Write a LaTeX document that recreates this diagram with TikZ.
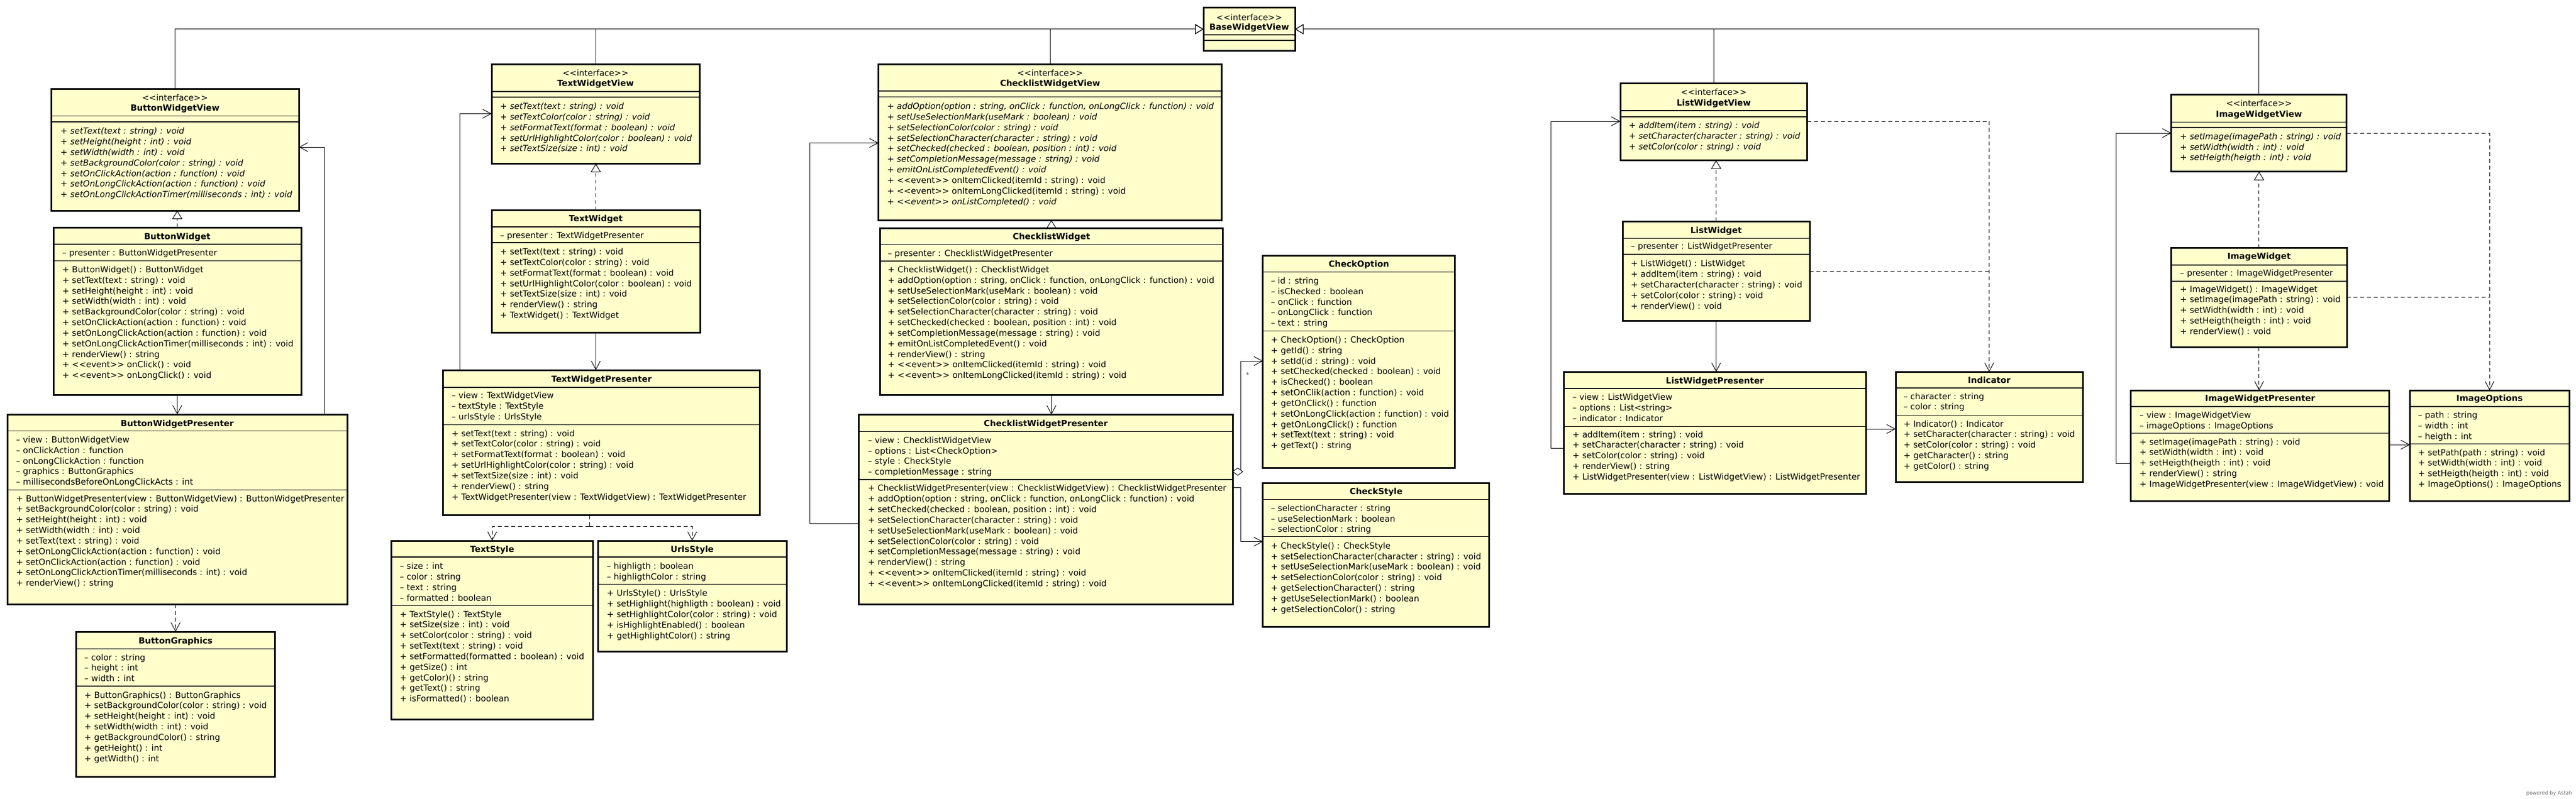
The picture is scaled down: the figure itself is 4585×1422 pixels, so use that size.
\documentclass[tikz,border=0pt]{standalone}
\usepackage{fontspec}
\setmainfont{DejaVu Sans}
\usepackage{graphicx}
\usetikzlibrary{arrows.meta}
\definecolor{clsfill}{HTML}{FFFFCC}
\newcommand\umlrf{\fontsize{15}{18}\selectfont}
\newcommand\umlif{\fontsize{15}{18}\selectfont\itshape}
\tikzset{
 cls/.style={draw=black, line width=3pt, fill=clsfill, anchor=north west, inner sep=0pt, outer sep=0pt},
 sepl/.style={draw=black, line width=1.2pt},
 tline/.style={anchor=west, inner sep=0pt, text height=11pt, text depth=1pt, font=\umlrf},
 ttlst/.style={inner sep=0pt, text height=11pt, text depth=1pt, font=\umlrf\bfseries},
 sttext/.style={inner sep=0pt, text height=11pt, text depth=1pt, font=\umlrf},
 conn/.style={draw=black, line width=1pt},
 nav/.style={conn, -{Straight Barb[length=15pt,width=16pt]}},
 dep/.style={nav, dash pattern=on 7pt off 5pt},
 dline/.style={conn, dash pattern=on 7pt off 5pt},
 real/.style={conn, dash pattern=on 7pt off 5pt, -{Triangle[open,length=15pt,width=18pt]}},
 gen/.style={conn, -{Triangle[open,length=15pt,width=18pt]}},
}
\newcommand\umlbox[5]{\node[cls, minimum width={#4-#2}, minimum height={#5-#3}] (#1) at (#2,#3) {};}
\newcommand\umlseps[2]{\foreach \yy in {#2}{\draw[sepl] (#1.west |- 0,\yy) -- (#1.east |- 0,\yy);}}
\newcommand\umlstereo[2]{\node[sttext] (#1s) at (#1.center |- 0,#2) {<{}<interface>{}>};}
\newcommand\umltitle[3]{\node[ttlst] (#1n) at (#1.center |- 0,#2) {#3};}
\newcommand\umllines[6]{\foreach[count=\ii] \mytext in {#6}{\node[tline,#5] (#1\ii) at (#2,{#3+(\ii-1)*18.85}) {\scalebox{#4}[1]{\mytext}};}}
\begin{document}
\begin{tikzpicture}[x=1pt,y=-1pt]
\useasboundingbox[fill=white] (0,0) rectangle (4585,1422);

% ---------- BaseWidgetView
\umlbox{base}{2142}{13.4}{2305}{90.4}
\umlseps{base}{62,72}
\umlstereo{base}{31.8}
\umltitle{base}{48.6}{BaseWidgetView}

% ---------- Button
\umlbox{bv}{91}{158.5}{532}{375}
\umlseps{bv}{206.6,217}
\umlstereo{bv}{174.4}
\umltitle{bv}{192.9}{ButtonWidgetView}
\umllines{bvo}{107.5}{233.6}{1}{font=\umlif}{
+ setText(text : string) : void,
+ setHeight(height : int) : void,
+ setWidth(width : int) : void,
+ setBackgroundColor(color : string) : void,
+ setOnClickAction(action : function) : void,
+ setOnLongClickAction(action : function) : void,
+ setOnLongClickActionTimer(milliseconds : int) : void}

\umlbox{bw}{95}{405}{536}{703.4}
\umlseps{bw}{435,464.8}
\umltitle{bw}{421}{ButtonWidget}
\umllines{bwa}{110.7}{450.7}{1}{}{– presenter : ButtonWidgetPresenter}
\umllines{bwo}{110.7}{480.3}{1}{}{
+ ButtonWidget() : ButtonWidget,
+ setText(text : string) : void,
+ setHeight(height : int) : void,
+ setWidth(width : int) : void,
+ setBackgroundColor(color : string) : void,
+ setOnClickAction(action : function) : void,
+ setOnLongClickAction(action : function) : void,
+ setOnLongClickActionTimer(milliseconds : int) : void,
+ renderView() : string,
+ <{}<event>{}> onClick() : void,
+ <{}<event>{}> onLongClick() : void}

\umlbox{bp}{13}{738}{618}{1076}
\umlseps{bp}{767.4,872.2}
\umltitle{bp}{754.4}{ButtonWidgetPresenter}
\umllines{bpa}{28.5}{783.3}{1}{}{
– view : ButtonWidgetView,
– onClickAction : function,
– onLongClickAction : function,
– graphics : ButtonGraphics,
– millisecondsBeforeOnLongClickActs : int}
\umllines{bpo}{28.5}{888}{1}{}{
+ ButtonWidgetPresenter(view : ButtonWidgetView) : ButtonWidgetPresenter,
+ setBackgroundColor(color : string) : void,
+ setHeight(height : int) : void,
+ setWidth(width : int) : void,
+ setText(text : string) : void,
+ setOnLongClickAction(action : function) : void,
+ setOnClickAction(action : function) : void,
+ setOnLongClickActionTimer(milliseconds : int) : void,
+ renderView() : string}

\umlbox{bg}{135.5}{1125}{489.5}{1383}
\umlseps{bg}{1155.8,1222}
\umltitle{bg}{1141}{ButtonGraphics}
\umllines{bga}{150}{1171}{1}{}{
– color : string,
– height : int,
– width : int}
\umllines{bgo}{150}{1238}{1}{}{
+ ButtonGraphics() : ButtonGraphics,
+ setBackgroundColor(color : string) : void,
+ setHeight(height : int) : void,
+ setWidth(width : int) : void,
+ getBackgroundColor() : string,
+ getHeight() : int,
+ getWidth() : int}

% ---------- Text
\umlbox{tv}{875}{114}{1245}{291.6}
\umlseps{tv}{163,173}
\umlstereo{tv}{130}
\umltitle{tv}{148}{TextWidgetView}
\umllines{tvo}{890}{189.5}{1}{font=\umlif}{
+ setText(text : string) : void,
+ setTextColor(color : string) : void,
+ setFormatText(format : boolean) : void,
+ setUrlHighlightColor(color : boolean) : void,
+ setTextSize(size : int) : void}

\umlbox{tw}{875}{374.5}{1246}{592}
\umlseps{tw}{404,432}
\umltitle{tw}{389}{TextWidget}
\umllines{twa}{890}{419}{1}{}{– presenter : TextWidgetPresenter}
\umllines{two}{890}{448.5}{1}{}{
+ setText(text : string) : void,
+ setTextColor(color : string) : void,
+ setFormatText(format : boolean) : void,
+ setUrlHighlightColor(color : boolean) : void,
+ setTextSize(size : int) : void,
+ renderView() : string,
+ TextWidget() : TextWidget}

\umlbox{tp}{788.6}{659}{1352.8}{917.7}
\umlseps{tp}{690,756.5}
\umltitle{tp}{675}{TextWidgetPresenter}
\umllines{tpa}{803.6}{704.7}{1}{}{
– view : TextWidgetView,
– textStyle : TextStyle,
– urlsStyle : UrlsStyle}
\umllines{tpo}{803.6}{772}{1}{}{
+ setText(text : string) : void,
+ setTextColor(color : string) : void,
+ setFormatText(format : boolean) : void,
+ setUrlHighlightColor(color : string) : void,
+ setTextSize(size : int) : void,
+ renderView() : string,
+ TextWidgetPresenter(view : TextWidgetView) : TextWidgetPresenter}

\umlbox{ts}{696.5}{963}{1055.5}{1281}
\umlseps{ts}{992,1078.5}
\umltitle{ts}{978}{TextStyle}
\umllines{tsa}{711.5}{1008.6}{1}{}{
– size : int,
– color : string,
– text : string,
– formatted : boolean}
\umllines{tso}{711.5}{1094}{1}{}{
+ TextStyle() : TextStyle,
+ setSize(size : int) : void,
+ setColor(color : string) : void,
+ setText(text : string) : void,
+ setFormatted(formatted : boolean) : void,
+ getSize() : int,
+ getColor)() : string,
+ getText() : string,
+ isFormatted() : boolean}

\umlbox{us}{1064}{963}{1400}{1160.6}
\umlseps{us}{992,1040.6}
\umltitle{us}{978}{UrlsStyle}
\umllines{usa}{1080}{1008.6}{1}{}{
– highligth : boolean,
– highligthColor : string}
\umllines{uso}{1080}{1056.6}{1}{}{
+ UrlsStyle() : UrlsStyle,
+ setHighlight(highligth : boolean) : void,
+ setHighlightColor(color : string) : void,
+ isHighlightEnabled() : boolean,
+ getHighlightColor() : string}

% ---------- Checklist
\umlbox{cv}{1563.5}{114.5}{2174.7}{392}
\umlseps{cv}{162,172.7}
\umlstereo{cv}{130}
\umltitle{cv}{148}{ChecklistWidgetView}
\umllines{cvo}{1578.8}{189.5}{1}{font=\umlif}{
{+ addOption(option : string, onClick : function, onLongClick : function) : void},
+ setUseSelectionMark(useMark : boolean) : void,
+ setSelectionColor(color : string) : void,
+ setSelectionCharacter(character : string) : void,
{+ setChecked(checked : boolean, position : int) : void},
+ setCompletionMessage(message : string) : void,
+ emitOnListCompletedEvent() : void,
\upshape + <{}<event>{}> onItemClicked(itemId : string) : void,
\upshape + <{}<event>{}> onItemLongClicked(itemId : string) : void,
+ <{}<event>{}> onListCompleted() : void}

\umlbox{cw}{1566}{406}{2176.7}{703.3}
\umlseps{cw}{435.6,465}
\umltitle{cw}{421.4}{ChecklistWidget}
\umllines{cwa}{1580}{451.3}{1}{}{– presenter : ChecklistWidgetPresenter}
\umllines{cwo}{1580}{480.3}{1}{}{
+ ChecklistWidget() : ChecklistWidget,
{+ addOption(option : string, onClick : function, onLongClick : function) : void},
+ setUseSelectionMark(useMark : boolean) : void,
+ setSelectionColor(color : string) : void,
+ setSelectionCharacter(character : string) : void,
{+ setChecked(checked : boolean, position : int) : void},
+ setCompletionMessage(message : string) : void,
+ emitOnListCompletedEvent() : void,
+ renderView() : string,
+ <{}<event>{}> onItemClicked(itemId : string) : void,
+ <{}<event>{}> onItemLongClicked(itemId : string) : void}

\umlbox{cp}{1528.8}{738.3}{2194}{1076}
\umlseps{cp}{768.2,854}
\umltitle{cp}{754.2}{ChecklistWidgetPresenter}
\umllines{cpa}{1544.6}{784.2}{1}{}{
– view : ChecklistWidgetView,
– options : List<CheckOption>,
– style : CheckStyle,
– completionMessage : string}
\umllines{cpo}{1544.6}{869.8}{1}{}{
+ ChecklistWidgetPresenter(view : ChecklistWidgetView) : ChecklistWidgetPresenter,
{+ addOption(option : string, onClick : function, onLongClick : function) : void},
{+ setChecked(checked : boolean, position : int) : void},
+ setSelectionCharacter(character : string) : void,
+ setUseSelectionMark(useMark : boolean) : void,
+ setSelectionColor(color : string) : void,
+ setCompletionMessage(message : string) : void,
+ renderView() : string,
+ <{}<event>{}> onItemClicked(itemId : string) : void,
+ <{}<event>{}> onItemLongClicked(itemId : string) : void}

\umlbox{co}{2247.8}{455.7}{2589.6}{833}
\umlseps{co}{484.7,589.6}
\umltitle{co}{470}{CheckOption}
\umllines{coa}{2262}{500.4}{1}{}{
– id : string,
– isChecked : boolean,
– onClick : function,
– onLongClick : function,
– text : string}
\umllines{coo}{2262}{605.3}{1}{}{
+ CheckOption() : CheckOption,
+ getId() : string,
+ setId(id : string) : void,
+ setChecked(checked : boolean) : void,
+ isChecked() : boolean,
+ setOnClik(action : function) : void,
+ getOnClick() : function,
+ setOnLongClick(action : function) : void,
+ getOnLongClick() : function,
+ setText(text : string) : void,
+ getText() : string}

\umlbox{cs}{2247.8}{860.6}{2650.7}{1116.4}
\umlseps{cs}{889.6,955.7}
\umltitle{cs}{875.3}{CheckStyle}
\umllines{csa}{2262}{905.2}{1}{}{
– selectionCharacter : string,
– useSelectionMark : boolean,
– selectionColor : string}
\umllines{cso}{2262}{972.2}{1}{}{
+ CheckStyle() : CheckStyle,
+ setSelectionCharacter(character : string) : void,
+ setUseSelectionMark(useMark : boolean) : void,
+ setSelectionColor(color : string) : void,
+ getSelectionCharacter() : string,
+ getUseSelectionMark() : boolean,
+ getSelectionColor() : string}

% ---------- List
\umlbox{lv}{2884}{148.4}{3216.5}{285.6}
\umlseps{lv}{197,208}
\umlstereo{lv}{164.8}
\umltitle{lv}{183}{ListWidgetView}
\umllines{lvo}{2899}{223.5}{1}{font=\umlif}{
+ addItem(item : string) : void,
+ setCharacter(character : string) : void,
+ setColor(color : string) : void}

\umlbox{lw}{2888}{394}{3221}{571.6}
\umlseps{lw}{424.4,453}
\umltitle{lw}{410}{ListWidget}
\umllines{lwa}{2902.6}{438.8}{1}{}{– presenter : ListWidgetPresenter}
\umllines{lwo}{2902.6}{469.7}{1}{}{
+ ListWidget() : ListWidget,
+ addItem(item : string) : void,
+ setCharacter(character : string) : void,
+ setColor(color : string) : void,
+ renderView() : void}

\umlbox{lp}{2783.8}{662.2}{3321}{879.5}
\umlseps{lp}{692,759.7}
\umltitle{lp}{678}{ListWidgetPresenter}
\umllines{lpa}{2798.7}{707.4}{1}{}{
– view : ListWidgetView,
– options : List<string>,
– indicator : Indicator}
\umllines{lpo}{2798.7}{774}{1}{}{
+ addItem(item : string) : void,
+ setCharacter(character : string) : void,
+ setColor(color : string) : void,
+ renderView() : string,
+ ListWidgetPresenter(view : ListWidgetView) : ListWidgetPresenter}

\umlbox{ind}{3374}{662.2}{3707}{858.6}
\umlseps{ind}{691,739.3}
\umltitle{ind}{677}{Indicator}
\umllines{inda}{3388}{706}{1}{}{
– character : string,
– color : string}
\umllines{indo}{3388}{755}{1}{}{
+ Indicator() : Indicator,
+ setCharacter(character : string) : void,
+ setColor(color : string) : void,
+ getCharacter() : string,
+ getColor() : string}

% ---------- Image
\umlbox{iv}{3864.7}{168}{4176.9}{305.8}
\umlseps{iv}{217.6,227}
\umlstereo{iv}{184.6}
\umltitle{iv}{203}{ImageWidgetView}
\umllines{ivo}{3880}{243.2}{1}{font=\umlif}{
+ setImage(imagePath : string) : void,
+ setWidth(width : int) : void,
+ setHeigth(heigth : int) : void}

\umlbox{iw}{3864.7}{441.5}{4177}{618.4}
\umlseps{iw}{472,501}
\umltitle{iw}{456.5}{ImageWidget}
\umllines{iwa}{3880}{486}{1}{}{– presenter : ImageWidgetPresenter}
\umllines{iwo}{3880}{515}{1}{}{
+ ImageWidget() : ImageWidget,
+ setImage(imagePath : string) : void,
+ setWidth(width : int) : void,
+ setHeigth(heigth : int) : void,
+ renderView() : void}

\umlbox{ip}{3792.8}{695}{4252.8}{892}
\umlseps{ip}{724,771.6}
\umltitle{ip}{709}{ImageWidgetPresenter}
\umllines{ipa}{3808}{739.6}{1}{}{
– view : ImageWidgetView,
– imageOptions : ImageOptions}
\umllines{ipo}{3808}{787}{1}{}{
+ setImage(imagePath : string) : void,
+ setWidth(width : int) : void,
+ setHeigth(heigth : int) : void,
+ renderView() : string,
+ ImageWidgetPresenter(view : ImageWidgetView) : void}

\umlbox{io}{4289.3}{695}{4573}{892}
\umlseps{io}{724,790.5}
\umltitle{io}{709}{ImageOptions}
\umllines{ioa}{4303.7}{739.6}{1}{}{
– path : string,
– width : int,
– heigth : int}
\umllines{ioo}{4303.7}{806}{1}{}{
+ setPath(path : string) : void,
+ setWidth(width : int) : void,
+ setHeigth(heigth : int) : void,
+ ImageOptions() : ImageOptions}

% ---------- connectors
\draw[gen] (bv.north) |- (base.west);
\draw[gen] (tv.north) |- (base.west);
\draw[gen] (cv.north) |- (base.west);
\draw[gen] (lv.north) |- (base.east);
\draw[gen] (iv.north) |- (base.east);

\draw[real] (bw.north) -- (bw.north |- bv.south);
\draw[real] (tw.north) -- (tw.north |- tv.south);
\draw[real] (cw.north) -- (cw.north |- cv.south);
\draw[real] (lw.north) -- (lw.north |- lv.south);
\draw[real] (iw.north) -- (iw.north |- iv.south);

\draw[nav] (bw.south) -- (bw.south |- bp.north);
\draw[nav] (tw.south) -- (tw.south |- tp.north);
\draw[nav] (cw.south) -- (cw.south |- cp.north);
\draw[nav] (lw.south) -- (lw.south |- lp.north);
\draw[dep] (iw.south) -- (iw.south |- ip.north);

\draw[nav] (bp.north -| 577,0) |- (bv.east |- 0,262);
\draw[nav] (tp.north -| 818,0) |- (tv.west |- 0,202.5);
\draw[nav] (cp.west |- 0,932) -| (1441.5,254.6) -- (cv.west |- 0,254.6);
\draw[nav] (lp.west |- 0,798) -| (2760,216) -- (lv.west |- 0,216);
\draw[nav] (ip.west |- 0,825) -| (3766.7,237) -- (iv.west |- 0,237);

\draw[dep] (bg.north |- bp.south) -- (bg.north);
\coordinate (tpj) at (1049,937.5);
\draw[dline] (tp.south -| tpj) -- (tpj);
\draw[dep] (tpj) -| (ts.north);
\draw[dep] (tpj) -| (us.north);

\draw[dep] (lv.east |- 0,216) -| (ind.north);
\draw[dline] (lw.east |- 0,483) -- (ind.north |- 0,483);
\draw[dep] (iv.east |- 0,237) -| (io.north);
\draw[dline] (iw.east |- 0,529.2) -- (io.north |- 0,529.2);

\draw[nav] (lp.east |- 0,764) -- (ind.west |- 0,764);
\draw[nav] (ip.east |- 0,792) -- (io.west |- 0,792);

\draw[nav] (cp.east |- 0,840) -| (2208,643) -- (co.west |- 0,643);
\draw[conn, fill=white] (cp.east |- 0,840) -- ++(9,-6.5) -- ++(9,6.5) -- ++(-9,6.5) -- cycle;
\node[inner sep=0pt, font=\fontsize{11}{11}\selectfont, text=black!70] (mult) at (2220.5,667) {*};
\draw[nav] (cp.east |- 0,868) -| (2208,964.6) -- (cs.west |- 0,964.6);

\node[anchor=east, inner sep=0pt, font=\fontsize{9}{9}\selectfont, text=black!55] (astah) at (4578,1413) {powered by Astah};
\end{tikzpicture}
\end{document}
